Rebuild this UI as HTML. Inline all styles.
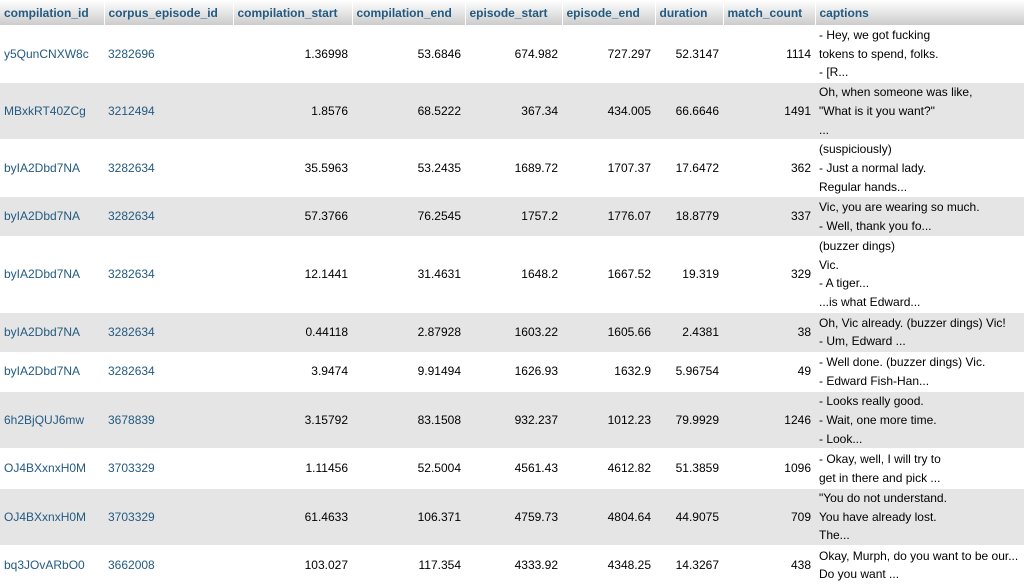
<!DOCTYPE html>
<html><head><meta charset="utf-8"><style>
body{margin:0;width:1024px;height:586px;overflow:hidden;background:#fff;font-family:"Liberation Sans",Arial,sans-serif;font-size:12px;color:#000}
table{border-collapse:collapse;table-layout:fixed;width:1024px}
th{height:25px;padding:0 4px;text-align:left;color:#235a81;font-weight:bold;background:linear-gradient(#fff,#ccc);border-right:1px solid #fff;border-bottom:1px solid #fff;font-size:12px}
td{padding:0 4px;line-height:18.7px;vertical-align:middle;border-bottom:1px solid #fff;white-space:nowrap;overflow:hidden}
tr.e td{background:#e5e5e5}
td.l{color:#235a81}
td.n{text-align:right}
tr.h3 td{height:56px}tr.h2 td{height:38.6px}tr.h4 td{height:75px}
</style></head><body>
<table>
<colgroup><col style="width:104px"><col style="width:129px"><col style="width:119px"><col style="width:113px"><col style="width:97px"><col style="width:93px"><col style="width:68px"><col style="width:92px"><col style="width:209px"></colgroup>
<tr><th>compilation_id</th><th>corpus_episode_id</th><th>compilation_start</th><th>compilation_end</th><th>episode_start</th><th>episode_end</th><th>duration</th><th>match_count</th><th>captions</th></tr>
<tr class="h3"><td class="l">y5QunCNXW8c</td><td class="l">3282696</td><td class="n">1.36998</td><td class="n">53.6846</td><td class="n">674.982</td><td class="n">727.297</td><td class="n">52.3147</td><td class="n">1114</td><td>- Hey, we got fucking<br>tokens to spend, folks.<br>- [R...</td></tr>
<tr class="h3 e"><td class="l">MBxkRT40ZCg</td><td class="l">3212494</td><td class="n">1.8576</td><td class="n">68.5222</td><td class="n">367.34</td><td class="n">434.005</td><td class="n">66.6646</td><td class="n">1491</td><td>Oh, when someone was like,<br>"What is it you want?"<br>...</td></tr>
<tr class="h3"><td class="l">byIA2Dbd7NA</td><td class="l">3282634</td><td class="n">35.5963</td><td class="n">53.2435</td><td class="n">1689.72</td><td class="n">1707.37</td><td class="n">17.6472</td><td class="n">362</td><td>(suspiciously)<br>- Just a normal lady.<br>Regular hands...</td></tr>
<tr class="h2 e"><td class="l">byIA2Dbd7NA</td><td class="l">3282634</td><td class="n">57.3766</td><td class="n">76.2545</td><td class="n">1757.2</td><td class="n">1776.07</td><td class="n">18.8779</td><td class="n">337</td><td>Vic, you are wearing so much.<br>- Well, thank you fo...</td></tr>
<tr class="h4"><td class="l">byIA2Dbd7NA</td><td class="l">3282634</td><td class="n">12.1441</td><td class="n">31.4631</td><td class="n">1648.2</td><td class="n">1667.52</td><td class="n">19.319</td><td class="n">329</td><td>(buzzer dings)<br>Vic.<br>- A tiger...<br>...is what Edward...</td></tr>
<tr class="h2 e"><td class="l">byIA2Dbd7NA</td><td class="l">3282634</td><td class="n">0.44118</td><td class="n">2.87928</td><td class="n">1603.22</td><td class="n">1605.66</td><td class="n">2.4381</td><td class="n">38</td><td>Oh, Vic already. (buzzer dings) Vic!<br>- Um, Edward ...</td></tr>
<tr class="h2"><td class="l">byIA2Dbd7NA</td><td class="l">3282634</td><td class="n">3.9474</td><td class="n">9.91494</td><td class="n">1626.93</td><td class="n">1632.9</td><td class="n">5.96754</td><td class="n">49</td><td>- Well done. (buzzer dings) Vic.<br>- Edward Fish-Han...</td></tr>
<tr class="h3 e"><td class="l">6h2BjQUJ6mw</td><td class="l">3678839</td><td class="n">3.15792</td><td class="n">83.1508</td><td class="n">932.237</td><td class="n">1012.23</td><td class="n">79.9929</td><td class="n">1246</td><td>- Looks really good.<br>- Wait, one more time.<br>- Look...</td></tr>
<tr class="h2"><td class="l">OJ4BXxnxH0M</td><td class="l">3703329</td><td class="n">1.11456</td><td class="n">52.5004</td><td class="n">4561.43</td><td class="n">4612.82</td><td class="n">51.3859</td><td class="n">1096</td><td>- Okay, well, I will try to<br>get in there and pick ...</td></tr>
<tr class="h3 e"><td class="l">OJ4BXxnxH0M</td><td class="l">3703329</td><td class="n">61.4633</td><td class="n">106.371</td><td class="n">4759.73</td><td class="n">4804.64</td><td class="n">44.9075</td><td class="n">709</td><td>"You do not understand.<br>You have already lost.<br>The...</td></tr>
<tr class="h2"><td class="l">bq3JOvARbO0</td><td class="l">3662008</td><td class="n">103.027</td><td class="n">117.354</td><td class="n">4333.92</td><td class="n">4348.25</td><td class="n">14.3267</td><td class="n">438</td><td>Okay, Murph, do you want to be our...<br>Do you want ...</td></tr>
</table>
</body></html>
